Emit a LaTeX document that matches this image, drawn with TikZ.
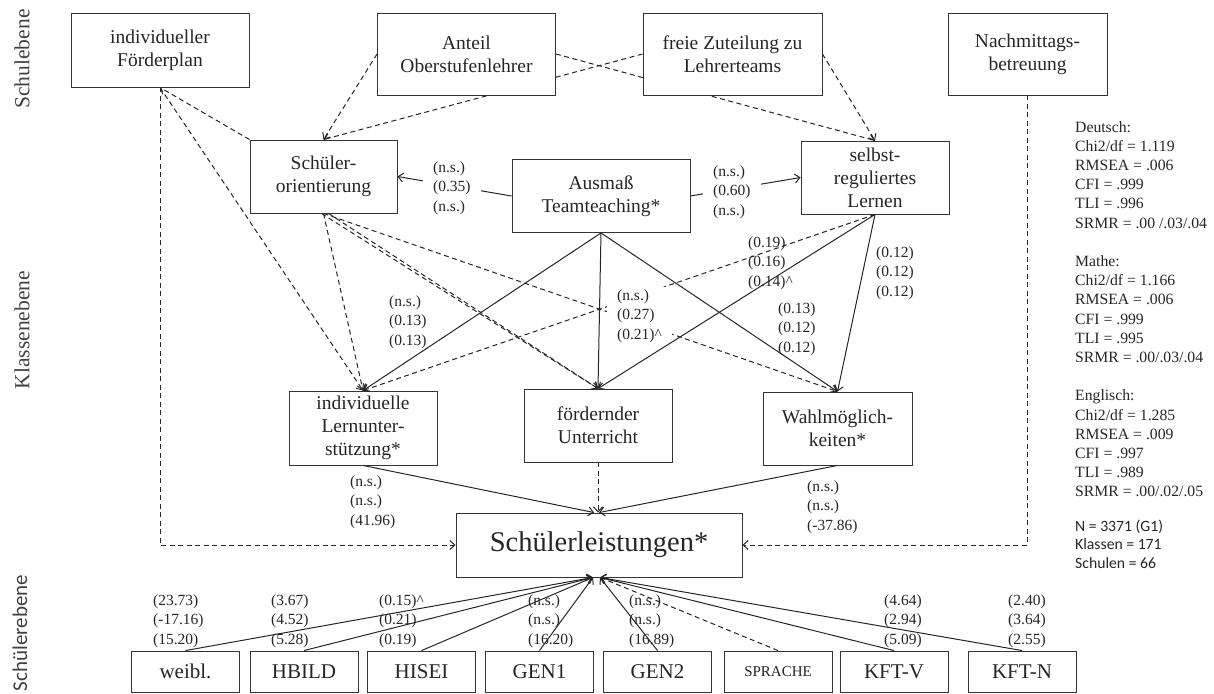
\documentclass[tikz,border=0pt]{standalone}
\usepackage{fontspec}
\setmainfont{Liberation Serif}
\newfontfamily\calibri{Carlito}
\usetikzlibrary{arrows.meta,backgrounds}

\begin{document}
\begin{tikzpicture}[x=1pt,y=-1pt,
            box/.style={draw=black!80,fill=white,line width=0.9pt,align=center,inner sep=1pt,text=black!85,font=\fontsize{19.5}{23}\selectfont},
            wbox/.style={box,minimum width=178pt,minimum height=82pt},
            kbox/.style={box,minimum width=148pt,minimum height=73pt},
            sbox/.style={box,minimum width=108pt,minimum height=41pt,font=\fontsize{21}{24}\selectfont},
            est/.style={align=left,anchor=west,inner sep=0pt,text=black!85,font=\fontsize{15.5}{19.3}\selectfont},
            estw/.style={est,fill=white,inner xsep=10pt,inner ysep=3pt},
            lvl/.style={rotate=90,text=black!75,font=\fontsize{21.5}{24}\selectfont},
            sig/.style={draw=black!85,line width=1pt,-{Straight Barb[length=5pt,width=9pt]}},
            ns/.style={sig,dash pattern=on 5pt off 3.5pt},
        ]
    \useasboundingbox (0,0) rectangle (1214,693);

    \node[lvl] (schulebene) at (22,59) {Schulebene};
    \node[lvl] (klassenebene) at (22,330) {Klassenebene};
    \node[lvl,font=\calibri\fontsize{21}{24}\selectfont] (schuelerebene) at (20,633) {Schülerebene};

    \node[wbox,minimum height=74pt] (foerder) at (160,50) {individueller\\Förderplan};
    \node[wbox] (anteil) at (466.5,54) {Anteil\\Oberstufenlehrer};
    \node[wbox,minimum width=179pt] (freie) at (732.5,54) {freie Zuteilung zu\\Lehrerteams};
    \node[wbox,minimum width=159pt] (nachmittag) at (1027.5,54) {Nachmittags-\\betreuung};

    \node[kbox,minimum width=147pt] (schueler) at (323.5,176.5) {Schüler-\\orientierung};
    \node[kbox,minimum width=178pt] (ausmass) at (601,196) {Ausmaß\\Teamteaching*};
    \node[kbox] (selbst) at (875,177.5) {selbst-\\reguliertes\\Lernen};

    \node[kbox,minimum height=74pt] (indiv) at (363,428) {individuelle\\Lernunter-\\stützung*};
    \node[kbox] (foerd) at (598,425.5) {fördernder\\Unterricht};
    \node[kbox,minimum width=149pt] (wahl) at (837.5,428.5) {Wahlmöglich-\\keiten*};

    \node[box,minimum width=286pt,minimum height=64pt,font=\fontsize{28.5}{32}\selectfont] (leist) at (599,545) {Schülerleistungen*};

    \node[sbox] (weibl) at (185.5,671.5) {weibl.};
    \node[sbox] (hbild) at (304,671.5) {HBILD};
    \node[sbox] (hisei) at (421.5,671.5) {HISEI};
    \node[sbox] (gen1) at (539.5,671.5) {GEN1};
    \node[sbox] (gen2) at (657.5,671.5) {GEN2};
    \node[sbox,font=\fontsize{15}{18}\selectfont] (sprache) at (778,671.5) {SPRACHE};
    \node[sbox] (kftv) at (894,671.5) {KFT-V};
    \node[sbox] (kftn) at (1022,671.5) {KFT-N};

    \node[estw] (lschueler) at (423,188) {(n.s.)\\(0.35)\\(n.s.)};
    \node[estw] (lselbst) at (703,192) {(n.s.)\\(0.60)\\(n.s.)};
    \node[est] (lindiv) at (389,322) {(n.s.)\\(0.13)\\(0.13)};
    \node[estw] (lfoerd) at (607,316) {(n.s.)\\(0.27)\\(0.21)\textasciicircum};
    \node[est] (lsf) at (748,263) {(0.19)\\(0.16)\\(0.14)\textasciicircum};
    \node[est] (law) at (778,329) {(0.13)\\(0.12)\\(0.12)};
    \node[est] (lsw) at (876,273) {(0.12)\\(0.12)\\(0.12)};
    \node[est] (lis) at (350,502) {(n.s.)\\(n.s.)\\(41.96)};
    \node[est] (lws) at (807,507) {(n.s.)\\(n.s.)\\(-37.86)};

    \node[est] (lweibl) at (153,621) {(23.73)\\(-17.16)\\(15.20)};
    \node[est] (lhbild) at (271,621) {(3.67)\\(4.52)\\(5.28)};
    \node[est] (lhisei) at (379,621) {(0.15)\textasciicircum\\(0.21)\\(0.19)};
    \node[est] (lgen1) at (528,621) {(n.s.)\\(n.s.)\\(16.20)};
    \node[est] (lgen2) at (629,621) {(n.s.)\\(n.s.)\\(16.89)};
    \node[est] (lkftv) at (884,621) {(4.64)\\(2.94)\\(5.09)};
    \node[est] (lkftn) at (1008,621) {(2.40)\\(3.64)\\(2.55)};

    \node[anchor=north west,align=left,inner sep=0pt,text=black!85,font=\fontsize{15.7}{19.2}\selectfont] (fit) at (1075,121) {Deutsch:\\Chi2/df = 1.119\\RMSEA = .006\\CFI = .999\\TLI = .996\\SRMR = .00 /.03/.04\\[19.2pt]Mathe:\\Chi2/df = 1.166\\RMSEA = .006\\CFI = .999\\TLI = .995\\SRMR = .00/.03/.04\\[19.2pt]Englisch:\\Chi2/df = 1.285\\RMSEA = .009\\CFI = .997\\TLI = .989\\SRMR = .00/.02/.05};
    \node[anchor=north west,align=left,inner sep=0pt,text=black!85,font=\calibri\fontsize{15.7}{18.2}\selectfont] (stichprobe) at (1075,520) {N = 3371 (G1)\\Klassen = 171\\Schulen = 66};

    \begin{scope}[on background layer]
    \draw[ns] (anteil.west) -- (schueler.north);
    \draw[ns] (freie.west) -- (schueler.north);
    \draw[ns] (anteil.east) -- (selbst.north);
    \draw[ns] (freie.east) -- (selbst.north);
    \draw[ns] (schueler.north west) -- (foerder.south);
    \draw[ns] (foerder.south) -- (indiv.north);
    \draw[ns] (foerder.south) |- (leist.west);
    \draw[ns] (nachmittag.south) |- (leist.east);
    \draw[sig] (ausmass.west) -- (schueler.east);
    \draw[sig] (ausmass.east) -- (selbst.west);
    \draw[ns] (selbst.south) -- (indiv.north);
    \draw[ns] (schueler.south) -- (indiv.north);
    \draw[ns] ([xshift=-2pt]schueler.south) -- (foerd.north);
    \draw[ns] ([xshift=5pt]schueler.south) -- (foerd.north);
    \draw[ns] (schueler.south) -- (wahl.north);
    \draw[ns] (foerd.south) -- (foerd.south |- leist.north);
    \draw[ns] (sprache.north) -- ([xshift=1pt]leist.south);
    \end{scope}

    \draw[sig] (ausmass.south) -- (indiv.north);
    \draw[sig] (ausmass.south) -- (foerd.north);
    \draw[sig] (ausmass.south) -- (wahl.north);
    \draw[sig] (selbst.south) -- (foerd.north);
    \draw[sig] (selbst.south) -- (wahl.north);
    \draw[sig] (indiv.south) -- ([xshift=-5pt]leist.north);
    \draw[sig] (wahl.south) -- (leist.north);

    \draw[sig] (weibl.north) -- ([xshift=-6pt]leist.south);
    \draw[sig] (hbild.north) -- ([xshift=-6pt]leist.south);
    \draw[sig] (hisei.north) -- ([xshift=-6pt]leist.south);
    \draw[sig] (gen1.north) -- ([xshift=-6pt]leist.south);
    \draw[sig] (gen2.north) -- ([xshift=1pt]leist.south);
    \draw[sig] (kftv.north) -- ([xshift=1pt]leist.south);
    \draw[sig] (kftn.north) -- ([xshift=1pt]leist.south);
\end{tikzpicture}
\end{document}
